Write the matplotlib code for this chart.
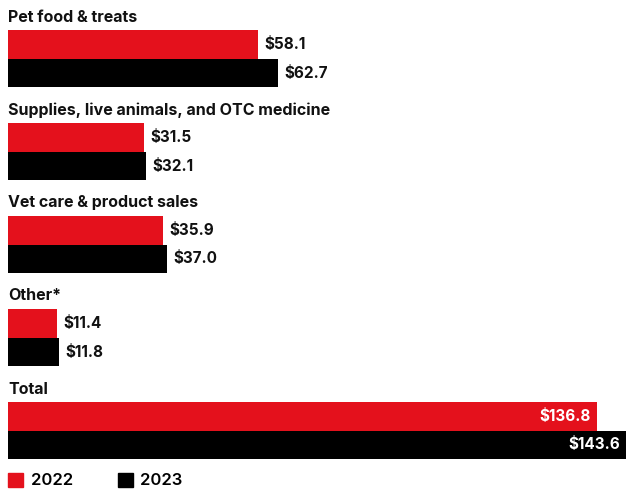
import matplotlib.pyplot as plt
from matplotlib.patches import Patch

categories = ['Pet food & treats', 'Supplies, live animals, and OTC medicine',
              'Vet care & product sales', 'Other*', 'Total']
values_2022 = [58.1, 31.5, 35.9, 11.4, 136.8]
values_2023 = [62.7, 32.1, 37.0, 11.8, 143.6]
years = ['2022', '2023']

RED = '#E4111C'
BLACK = '#000000'
W, H = 626, 491

plt.rcParams['font.family'] = ['Inter', 'DejaVu Sans']

fig = plt.figure(figsize=(W / 100, H / 100), dpi=100)
# axes in pixel-like units vertically, value units horizontally
ax = fig.add_axes([8 / W, 0, 1 - 8 / W, 1])
ax.set_xlim(0, max(values_2023))
ax.set_ylim(H, 0)
ax.axis('off')

step = 93
bar_h = 28.5
fs = 11.5
vfs = 11
for i, cat in enumerate(categories):
    y_red = 44.5 + step * i
    y_blk = y_red + bar_h
    ax.barh(y_red, values_2022[i], height=bar_h, color=RED, left=0)
    ax.barh(y_blk, values_2023[i], height=bar_h, color=BLACK, left=0)
    ax.text(0, y_red - 27.5, cat, fontsize=fs, fontweight='bold',
            va='center', ha='left', color='#111111')
    if cat == 'Total':
        ax.text(values_2022[i] - 1.3, y_red, f'${values_2022[i]:.1f}', color='white',
                fontsize=vfs, fontweight='bold', va='center', ha='right')
        ax.text(values_2023[i] - 1.3, y_blk, f'${values_2023[i]:.1f}', color='white',
                fontsize=vfs, fontweight='bold', va='center', ha='right')
    else:
        ax.text(values_2022[i] + 1.5, y_red, f'${values_2022[i]:.1f}', color='#111111',
                fontsize=vfs, fontweight='bold', va='center', ha='left')
        ax.text(values_2023[i] + 1.5, y_blk, f'${values_2023[i]:.1f}', color='#111111',
                fontsize=vfs, fontweight='bold', va='center', ha='left')

handles = [Patch(color=RED), Patch(color=BLACK)]
fig.legend(handles, years, loc='center left', bbox_to_anchor=(8 / W, 10.5 / H), ncol=2,
           frameon=False, borderpad=0, borderaxespad=0,
           handlelength=0.9, handleheight=0.9, handletextpad=0.45,
           columnspacing=2.7, prop={'size': 12, 'weight': 'semibold'})

fig.savefig('out.png', dpi=100)
